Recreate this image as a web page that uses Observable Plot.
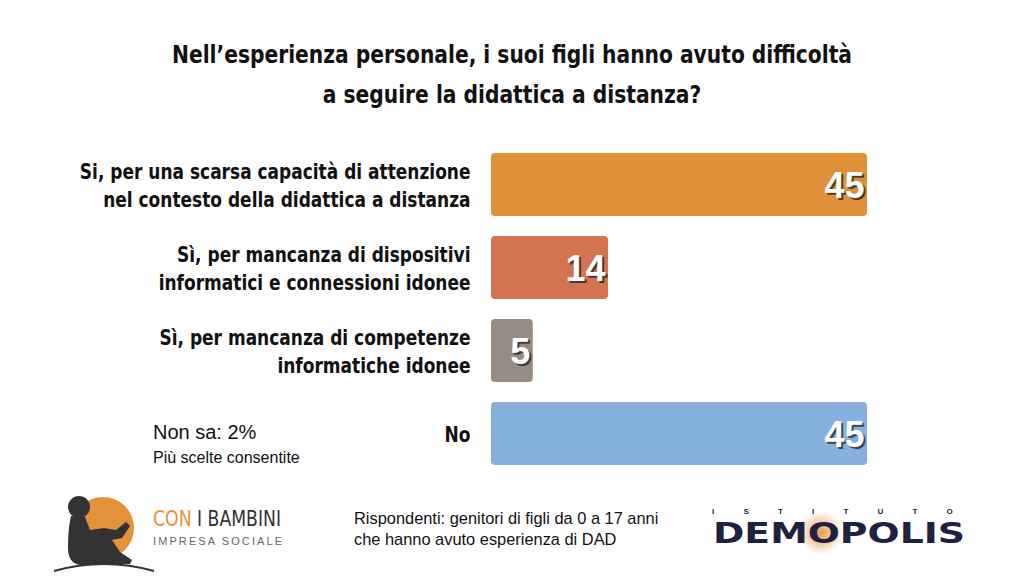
<!DOCTYPE html>
<html><head><meta charset="utf-8">
<script src="https://cdn.jsdelivr.net/npm/d3@7"></script>
<script src="https://cdn.jsdelivr.net/npm/@observablehq/plot@0.6"></script>
<style>
html,body{margin:0;padding:0;background:#fff;width:1024px;height:576px;overflow:hidden;position:relative;font-family:"Liberation Sans",Arial,sans-serif;}
.cond{font-family:"DejaVu Sans Condensed","DejaVu Sans",sans-serif;}
#title{position:absolute;left:0;top:35px;width:1024px;text-align:center;font-size:25px;font-weight:bold;line-height:40px;color:#111;transform:scaleX(0.9);transform-origin:512px 0;}
#chart{position:absolute;left:0;top:140px;}
.abs{position:absolute;color:#111;}
</style></head><body>
<div id="title" class="cond">Nell’esperienza personale, i suoi figli hanno avuto difficoltà<br>a seguire la didattica a distanza?</div>
<div id="chart"></div>
<div class="abs" style="left:153px;top:421px;font-size:20px;">Non sa: 2%</div>
<div class="abs" style="left:153px;top:449px;font-size:16px;">Più scelte consentite</div>
<div class="abs" style="left:354px;top:508px;font-size:16.4px;line-height:21px;white-space:nowrap;">Rispondenti: genitori di figli da 0 a 17 anni<br>che hanno avuto esperienza di DAD</div>
<svg class="abs" style="left:40px;top:488px" width="260" height="88" viewBox="0 0 260 88">
  <circle cx="63" cy="40" r="31" fill="#E3923A"/>
  <circle cx="39" cy="19" r="11" fill="#333"/>
  <path d="M31 28 L45 29 L50 42 L64 40 L76 42 L86 34 L90 38 L82 50 L72 52 L80 64 L92 72 L90 76 L40 77 Q28 75 28 60 Q28 40 31 28 Z" fill="#333"/>
  <path d="M14 83 q50-14 100 0" stroke="#333" stroke-width="2" fill="none"/>
  <text x="113" y="38" font-size="21" class="cond" fill="#E3923A" textLength="128" lengthAdjust="spacingAndGlyphs">CON <tspan fill="#333">I BAMBINI</tspan></text>
  <text x="113" y="57" font-size="11" fill="#666" letter-spacing="2.1">IMPRESA SOCIALE</text>
</svg>
<svg class="abs" style="left:700px;top:500px" width="320" height="60" viewBox="0 0 320 60">
  <defs><radialGradient id="g"><stop offset="0" stop-color="#E3923A" stop-opacity="0.9"/><stop offset="1" stop-color="#E3923A" stop-opacity="0"/></radialGradient></defs>
  <circle cx="121" cy="33" r="22" fill="url(#g)"/>
  <text x="12" y="14" font-size="8" fill="#1f2142" font-weight="bold" letter-spacing="29.2">ISTITUTO</text>
  <text x="13" y="43" font-size="29" fill="#1f2142" font-weight="900" font-family="'DejaVu Sans',sans-serif" textLength="252" lengthAdjust="spacingAndGlyphs">DEMOPOLIS</text>
</svg>
<script>
const categories = [
  "Si, per una scarsa capacità di attenzione\nnel contesto della didattica a distanza",
  "Sì, per mancanza di dispositivi\ninformatici e connessioni idonee",
  "Sì, per mancanza di competenze\ninformatiche idonee",
  "No"
];
const values = [45, 14, 5, 45];
const colors = ["#E09038", "#D37350", "#958D83", "#86B1DC"];

const data = categories.map((c, i) => ({cat: c, value: values[i], color: colors[i]}));

const chart = Plot.plot({
  width: 1024,
  height: 340,
  marginLeft: 491,
  marginRight: 157,
  marginTop: 3,
  marginBottom: 5,
  x: {domain: [0, 45], axis: null},
  y: {domain: categories, axis: null, paddingInner: 0.24, paddingOuter: 0.12},
  style: {background: "transparent", overflow: "visible"},
  marks: [
    Plot.barX(data, {x: "value", y: "cat", fill: "color", rx: 4}),
    Plot.text(data, {x: 0, y: "cat", text: "cat", textAnchor: "end", dx: -21, dy: -1, lineHeight: 1.27,
      fontSize: 22, fill: "#111", fontFamily: "'DejaVu Sans Condensed','DejaVu Sans',sans-serif", fontWeight: "bold"}),
    Plot.text(data, {x: "value", y: "cat", text: d => String(d.value), textAnchor: "end", dx: -1, dy: 3,
      fontSize: 36, fontWeight: "bold", fill: "#222", fillOpacity: 0.75, fontFamily: "'Liberation Sans',Arial,sans-serif"}),
    Plot.text(data, {x: "value", y: "cat", text: d => String(d.value), textAnchor: "end", dx: -3, dy: 1,
      fontSize: 36, fontWeight: "bold", fill: "#fff", fontFamily: "'Liberation Sans',Arial,sans-serif"})
  ]
});
// narrow the category labels (condensed look), scaling around their right-aligned anchor
d3.select(chart).selectAll('g[aria-label="text"]').filter((d, i) => i === 0)
  .selectAll("text").attr("transform", function() { return this.getAttribute("transform") + " scale(0.86,1)"; });
document.getElementById("chart").appendChild(chart);
</script>
</body></html>
